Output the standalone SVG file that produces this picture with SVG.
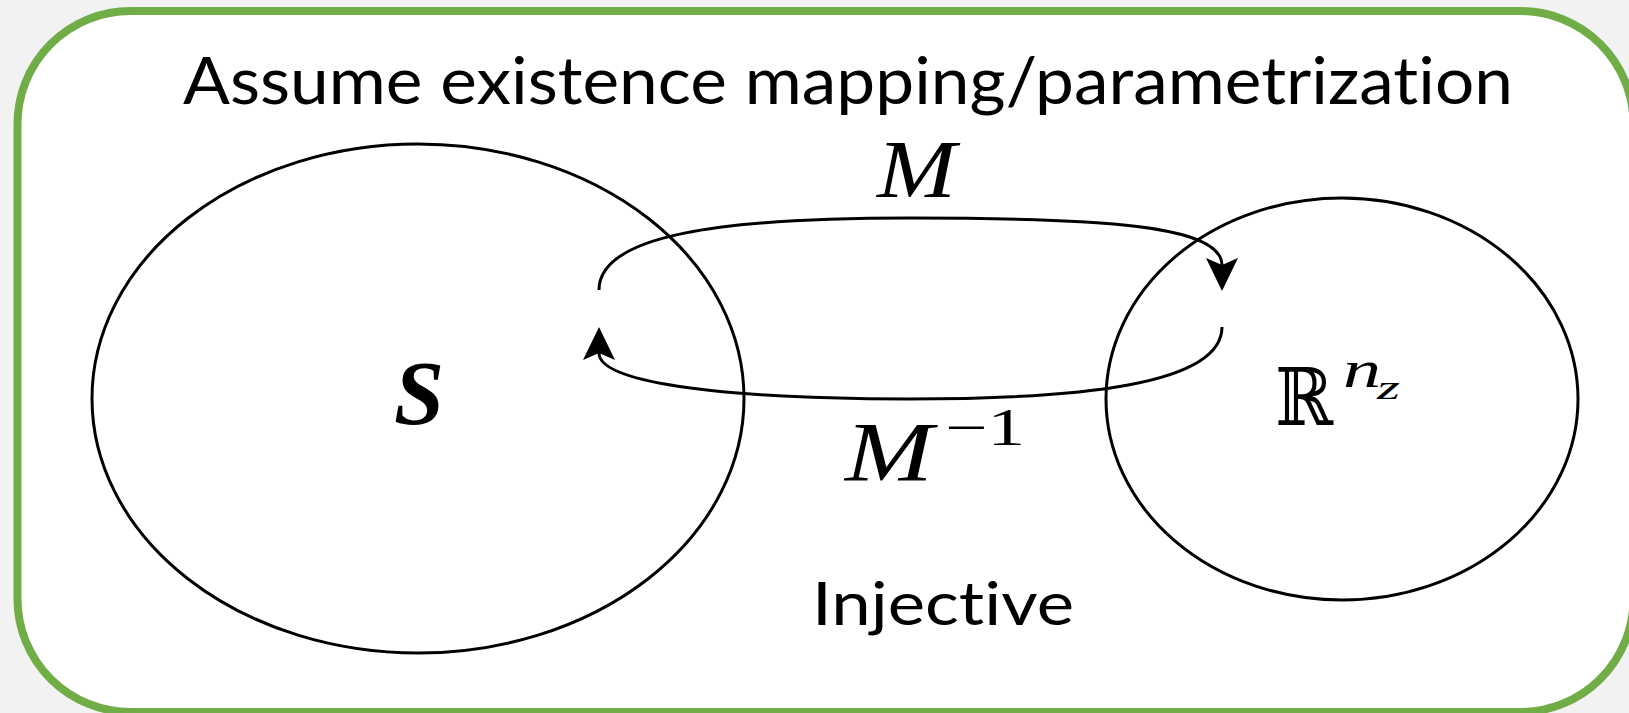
<svg xmlns="http://www.w3.org/2000/svg" width="1629" height="713" viewBox="0 0 1629 713">
  <style>
    .sans { font-family: "Lato", "Open Sans", "Liberation Sans", sans-serif; fill: #000; font-variant-ligatures: none; font-feature-settings: "liga" 0, "clig" 0; }
    .math { font-family: "Liberation Serif", "DejaVu Serif", serif; font-style: italic; fill: #000; }
    .mathup { font-family: "Liberation Serif", "DejaVu Serif", serif; fill: #000; }
    .bb { font-family: "DejaVu Serif", "DejaVu Sans", serif; fill: #000; }
    .set { fill: none; stroke: #000; stroke-width: 3; }
    .conn { fill: none; stroke: #000; stroke-width: 3; }
  </style>
  <defs>
    <marker id="arrow" markerUnits="userSpaceOnUse" markerWidth="44" markerHeight="44" viewBox="-10 -22 44 44" refX="0" refY="0" orient="auto">
      <path d="M26,0 L-7,-16 L0,0 L-7,16 Z" fill="#000"/>
    </marker>
  </defs>

  <rect x="0" y="0" width="1629" height="713" fill="#f2f2f2"/>
  <g id="frame">
    <rect x="17.5" y="11" width="1616" height="701" rx="113" ry="113" fill="#fff" stroke="#70ad47" stroke-width="8"/>
  </g>

  <g id="title">
    <text class="sans" x="183" y="103.5" font-size="65" textLength="1330" lengthAdjust="spacingAndGlyphs">Assume existence mapping/parametrization</text>
  </g>

  <g id="node-S">
    <ellipse class="set" cx="418" cy="398.5" rx="326" ry="254.5"/>
    <text class="math" x="419" y="424" font-size="90" font-weight="bold" text-anchor="middle">S</text>
  </g>

  <g id="node-R">
    <ellipse class="set" cx="1342" cy="399" rx="236" ry="201"/>
    <text class="bb" x="1275" y="425" font-size="80" textLength="58" lengthAdjust="spacingAndGlyphs">ℝ</text>
    <text class="math" x="1343" y="387" font-size="52" textLength="38" lengthAdjust="spacingAndGlyphs">n</text>
    <text class="math" x="1377" y="399" font-size="34" textLength="23" lengthAdjust="spacingAndGlyphs">z</text>
  </g>

  <g id="connectors">
    <path id="edge-M" class="conn" d="M599,290 C599,235 720,218 910,218 C1100,218 1222,225 1222,265" marker-end="url(#arrow)"/>
    <path id="edge-Minv" class="conn" d="M1222,327 C1222,385 1080,399 908,399 C740,399 599,385 599,353" marker-end="url(#arrow)"/>
    <text class="math" x="877" y="197" font-size="83" textLength="79" lengthAdjust="spacingAndGlyphs">M</text>
    <text class="math" x="845" y="481" font-size="85" textLength="88" lengthAdjust="spacingAndGlyphs">M</text>
    <text class="mathup" x="945" y="445" font-size="52" textLength="80" lengthAdjust="spacingAndGlyphs">−1</text>
  </g>

  <g id="note">
    <text class="sans" x="812" y="625" font-size="60" textLength="262" lengthAdjust="spacingAndGlyphs">Injective</text>
  </g>
</svg>
